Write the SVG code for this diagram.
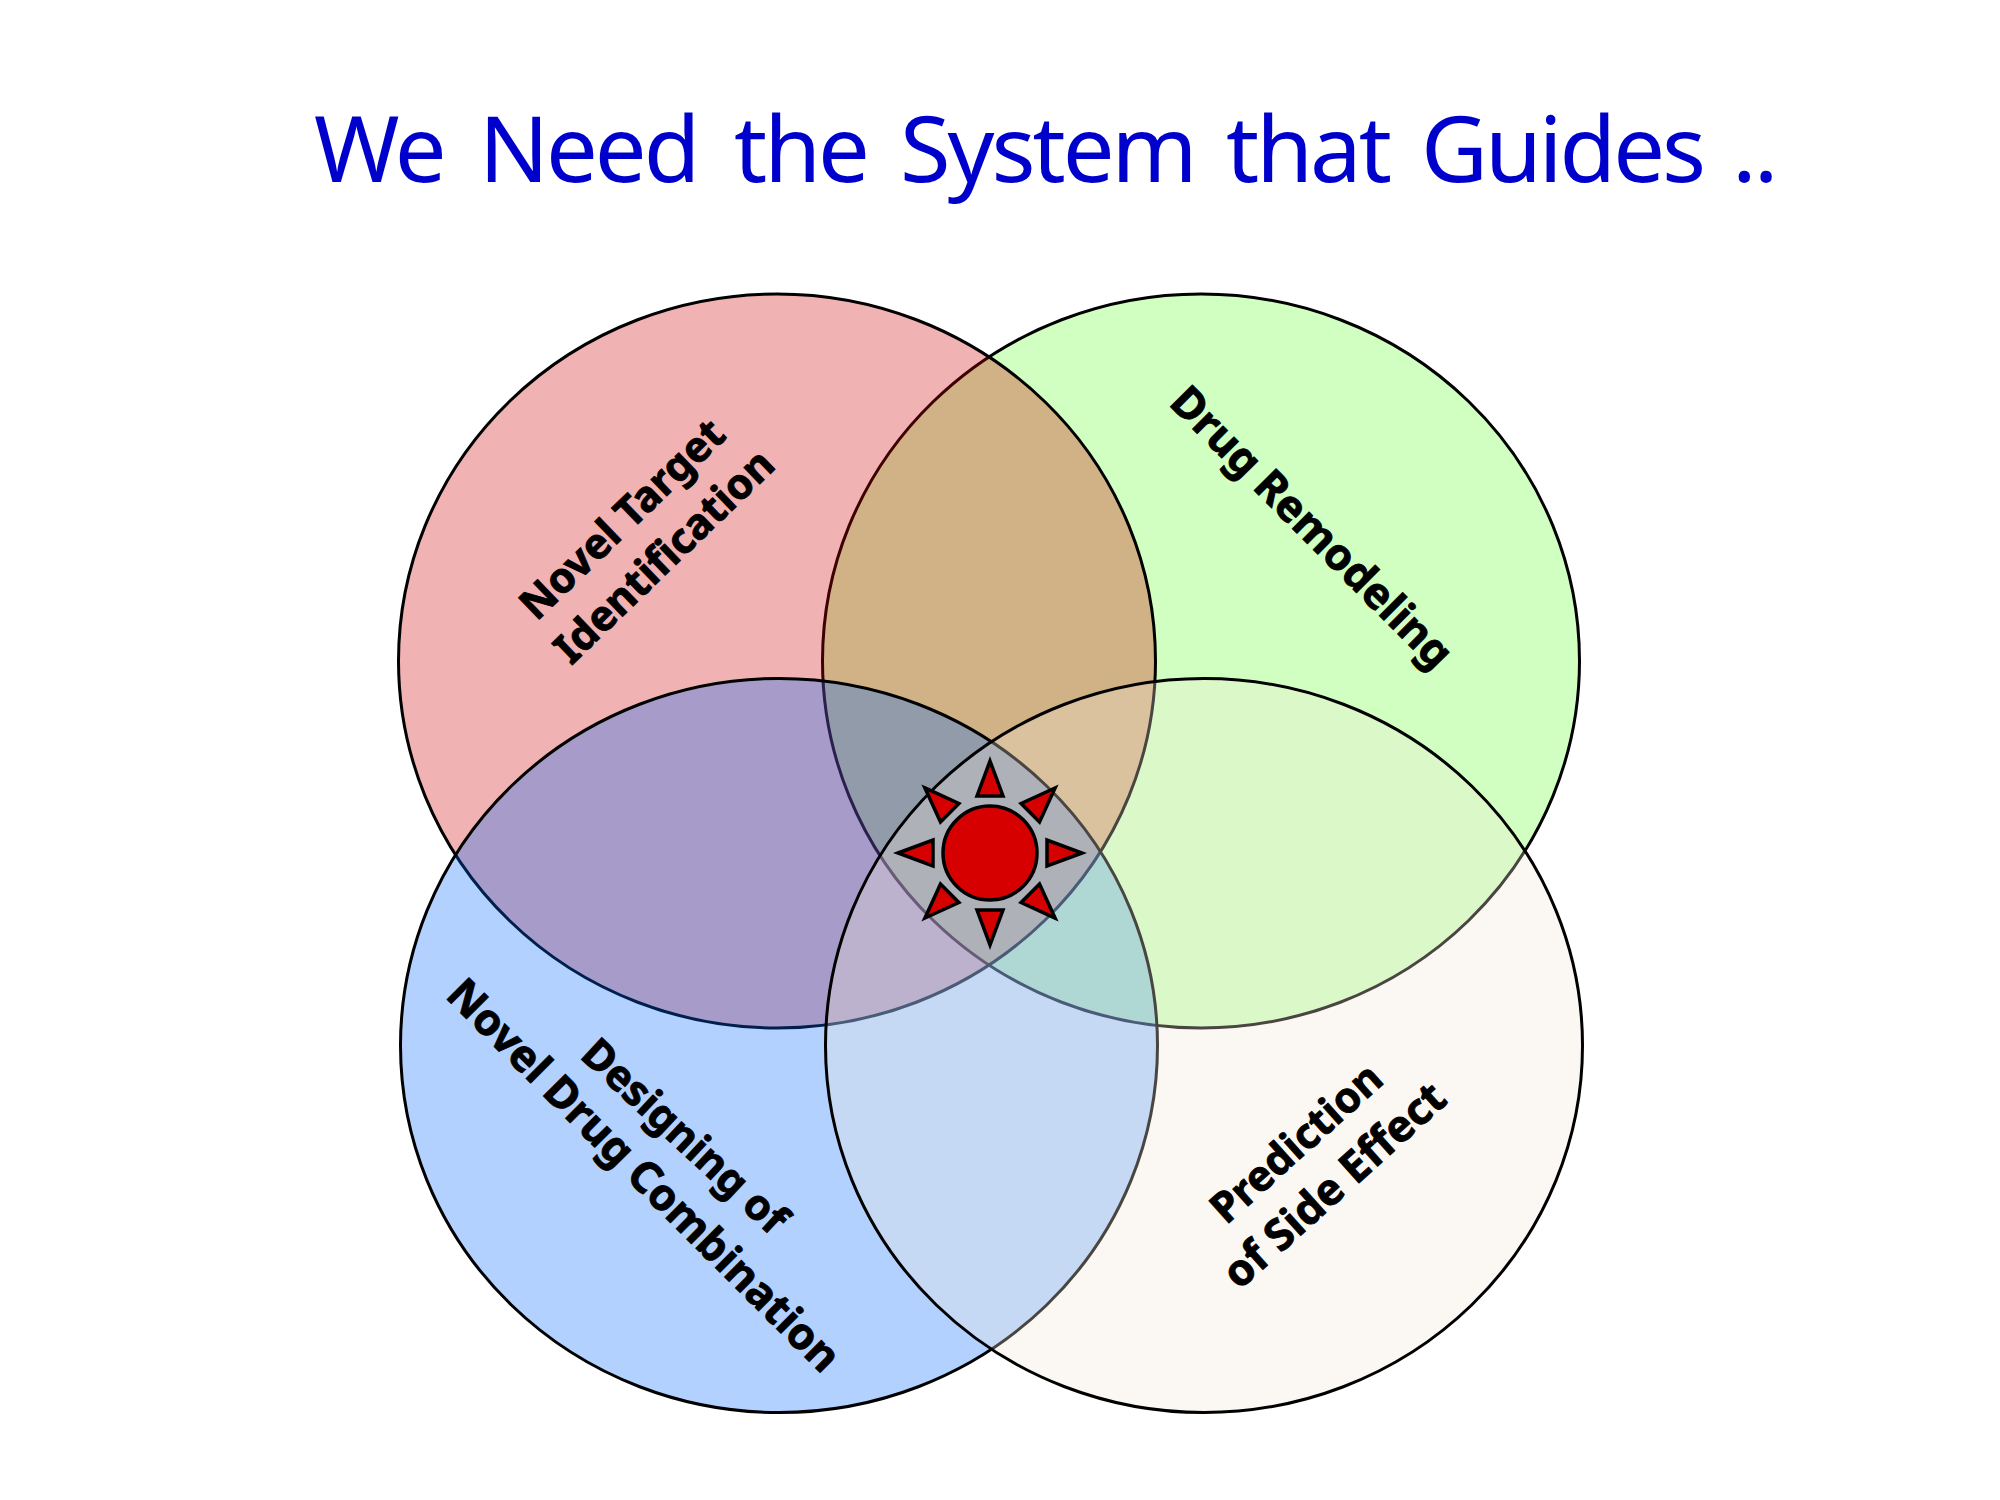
<svg xmlns="http://www.w3.org/2000/svg" width="2000" height="1500" viewBox="0 0 2000 1500">
<style>
.c{fill-opacity:.3;stroke:#000;stroke-width:3}
.l{font-family:"Noto Sans","Open Sans",sans-serif;font-weight:700;font-size:42px;fill:#000;stroke:#000;stroke-width:.9;text-anchor:middle}
.b{font-size:43.5px}
.t{font-family:"Noto Sans","Open Sans",sans-serif;font-size:92px;fill:#0000CC;letter-spacing:-3px}
.s{fill:#D60000;stroke:#000;stroke-width:3.5}
</style>
<defs><polygon id="ray" class="s" points="990,761 1003,796 977,796"/></defs>
<rect width="2000" height="1500" fill="#fff"/>
<text id="title" class="t" y="182"><tspan x="314">We</tspan><tspan x="479">Need</tspan><tspan x="734">the</tspan><tspan x="900">System</tspan><tspan x="1226">that</tspan><tspan x="1421">Guides</tspan><tspan x="1732">..</tspan></text>
<g id="drug-remodeling">
<ellipse class="c" fill="#66FF33" cx="1201" cy="661" rx="378.5" ry="367"/>
<text class="l b" transform="translate(1312 527) rotate(45)" dy=".35em">Drug Remodeling</text>
</g>
<g id="novel-target">
<ellipse class="c" fill="#CC0000" cx="777" cy="661" rx="378.5" ry="367"/>
<text class="l" transform="translate(622 519) rotate(-44)" dy=".35em">Novel Target</text>
<text class="l" transform="translate(664 556) rotate(-44)" dy=".35em">Identification</text>
</g>
<g id="drug-combination">
<ellipse class="c" fill="#0066FF" cx="779" cy="1045.5" rx="378.5" ry="367"/>
<text class="l" transform="translate(685 1136) rotate(43)" dy=".35em">Designing of</text>
<text class="l b" transform="translate(644 1175) rotate(45)" dy=".35em">Novel Drug Combination</text>
</g>
<g id="side-effect">
<ellipse class="c" fill="#F2E8DC" cx="1204" cy="1045.5" rx="378.5" ry="367"/>
<text class="l" transform="translate(1296 1143) rotate(-42)" dy=".35em">Prediction</text>
<text class="l b" transform="translate(1334 1185) rotate(-42)" dy=".35em">of Side Effect</text>
</g>
<g id="sun">
<circle class="s" cx="990" cy="853" r="47"/>
<use href="#ray"/>
<use href="#ray" transform="rotate(45 990 853)"/>
<use href="#ray" transform="rotate(90 990 853)"/>
<use href="#ray" transform="rotate(135 990 853)"/>
<use href="#ray" transform="rotate(180 990 853)"/>
<use href="#ray" transform="rotate(225 990 853)"/>
<use href="#ray" transform="rotate(270 990 853)"/>
<use href="#ray" transform="rotate(315 990 853)"/>
</g>
</svg>
